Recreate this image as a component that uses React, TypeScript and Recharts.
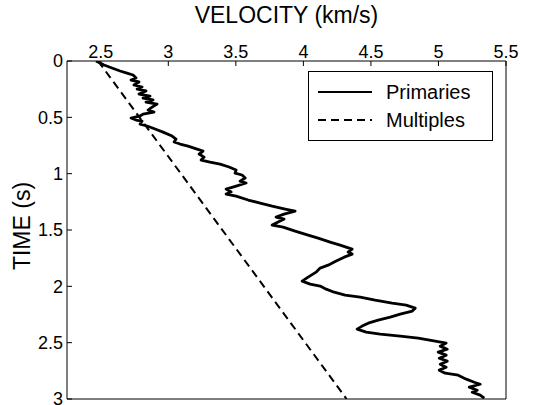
import React from 'react'
import { ScatterChart, Scatter, XAxis, YAxis, Legend } from 'recharts'

// velocity (km/s) vs two-way time (s)
const PRIMARY_T = [
  0, 0.036, 0.062, 0.089, 0.107, 0.124, 0.151, 0.169, 0.186, 0.213,
  0.231, 0.249, 0.266, 0.293, 0.311, 0.329, 0.346, 0.364, 0.382, 0.409,
  0.435, 0.453, 0.471, 0.488, 0.506, 0.524, 0.533, 0.56, 0.577, 0.604,
  0.631, 0.666, 0.693, 0.719, 0.737, 0.755, 0.782, 0.799, 0.826, 0.853,
  0.879, 0.897, 0.915, 0.941, 0.968, 0.995, 1.012, 1.039, 1.066, 1.083,
  1.11, 1.137, 1.163, 1.181, 1.199, 1.234, 1.261, 1.288, 1.314, 1.332,
  1.359, 1.385, 1.403, 1.43, 1.456, 1.474, 1.51, 1.545, 1.572, 1.607,
  1.634, 1.67, 1.696, 1.714, 1.741, 1.776, 1.812, 1.838, 1.874, 1.918,
  1.954, 1.98, 1.998, 2.025, 2.052, 2.078, 2.096, 2.123, 2.149, 2.167,
  2.194, 2.22, 2.247, 2.274, 2.3, 2.327, 2.353, 2.38, 2.407, 2.425,
  2.442, 2.46, 2.487, 2.504, 2.531, 2.558, 2.584, 2.611, 2.638, 2.664,
  2.691, 2.718, 2.744, 2.771, 2.789, 2.824, 2.851, 2.869, 2.895, 2.922,
  2.94, 2.966, 2.993,
]
const PRIMARY_V = [
  2.465, 2.524, 2.583, 2.643, 2.694, 2.739, 2.761, 2.724, 2.783, 2.746,
  2.806, 2.769, 2.835, 2.783, 2.865, 2.813, 2.887, 2.835, 2.917, 2.88,
  2.85, 2.894, 2.813, 2.791, 2.724, 2.761, 2.806, 2.791, 2.843, 2.902,
  2.961, 3.028, 3.057, 3.043, 3.087, 3.146, 3.213, 3.257, 3.228, 3.265,
  3.243, 3.309, 3.383, 3.45, 3.502, 3.494, 3.546, 3.569, 3.531, 3.576,
  3.502, 3.428, 3.465, 3.428, 3.502, 3.591, 3.68, 3.769, 3.865, 3.939,
  3.857, 3.798, 3.857, 3.813, 3.769, 3.85, 3.939, 4.035, 4.109, 4.198,
  4.272, 4.361, 4.331, 4.361, 4.302, 4.243, 4.183, 4.124, 4.094, 4.035,
  3.991, 4.05, 4.124, 4.169, 4.228, 4.309, 4.42, 4.531, 4.657, 4.761,
  4.828, 4.806, 4.717, 4.643, 4.554, 4.48, 4.435, 4.398, 4.465, 4.569,
  4.717, 4.85, 4.976, 5.057, 5.013, 5.065, 4.998, 5.057, 5.006, 5.065,
  5.013, 5.057, 5.006, 5.05, 5.146, 5.206, 5.265, 5.309, 5.228, 5.287,
  5.25, 5.309, 5.339,
]
const MULTIPLE_T = [0, 3]
const MULTIPLE_V = [2.48, 4.32]

const X_TICKS = [2.5, 3, 3.5, 4, 4.5, 5, 5.5]
const Y_TICKS = [0, 0.5, 1, 1.5, 2, 2.5, 3]

const SERIES = [
  { name: 'Primaries', dash: undefined as string | undefined },
  { name: 'Multiples', dash: '8 5' },
]

const primaries = PRIMARY_T.map((t, i) => ({ t, v: PRIMARY_V[i] }))
const multiples = MULTIPLE_T.map((t, i) => ({ t, v: MULTIPLE_V[i] }))

const NoDot = () => <g />

const tickStyle = { fontSize: 18, fill: '#000' }

function LegendBox() {
  return (
    <div
      style={{
        width: 185,
        height: 70,
        boxSizing: 'border-box',
        border: '1px solid #000',
        background: '#fff',
        paddingTop: 6,
      }}
    >
      {SERIES.map((s) => (
        <div key={s.name} style={{ display: 'flex', alignItems: 'center', height: 28 }}>
          <svg width={64} height={10} style={{ marginLeft: 9 }}>
            <line x1={0} y1={5} x2={54} y2={5} stroke="#000" strokeWidth={2} strokeDasharray={s.dash} />
          </svg>
          <span style={{ fontSize: 20, color: '#000', marginLeft: 4 }}>{s.name}</span>
        </div>
      ))}
    </div>
  )
}

export default function App() {
  return (
    <div
      style={{
        position: 'absolute',
        left: 0,
        top: 0,
        width: 536,
        height: 405,
        overflow: 'hidden',
        background: '#fff',
        fontFamily: '"Liberation Sans", Arial, sans-serif',
      }}
    >
      <ScatterChart width={536} height={420} margin={{ top: 0, right: 29, bottom: 20, left: 0 }}>
        <XAxis
          type="number"
          dataKey="v"
          orientation="top"
          domain={[2.25, 5.5]}
          allowDataOverflow
          ticks={X_TICKS}
          height={61}
          tickSize={-5}
          tickMargin={8}
          tick={tickStyle}
          stroke="#000"
          label={{ value: 'VELOCITY (km/s)', position: 'insideTop', offset: 7, fontSize: 23, fill: '#000' }}
        />
        <XAxis
          xAxisId="bottom"
          type="number"
          orientation="bottom"
          domain={[2.25, 5.5]}
          allowDataOverflow
          ticks={X_TICKS}
          height={1}
          tickSize={-5}
          tick={false}
          stroke="#000"
        />
        <YAxis
          type="number"
          dataKey="t"
          reversed
          domain={[0, 3]}
          allowDataOverflow
          ticks={Y_TICKS}
          width={67}
          tickSize={-5}
          tickMargin={9}
          tick={tickStyle}
          stroke="#000"
          label={{
            value: 'TIME (s)',
            angle: -90,
            position: 'insideLeft',
            offset: 22,
            dy: -4,
            fontSize: 23,
            fill: '#000',
            style: { textAnchor: 'middle' },
          }}
        />
        <YAxis
          yAxisId="right"
          type="number"
          orientation="right"
          reversed
          domain={[0, 3]}
          allowDataOverflow
          ticks={Y_TICKS}
          width={1}
          tickSize={-5}
          tick={false}
          stroke="#000"
        />
        <Legend
          content={() => <LegendBox />}
          layout="horizontal"
          verticalAlign="middle"
          align="center"
          wrapperStyle={{ position: 'absolute', left: 308, top: 71, width: 185, height: 70 }}
        />
        <Scatter
          name="Primaries"
          data={primaries}
          fill="#000"
          shape={NoDot}
          line={{ stroke: '#000', strokeWidth: 2.8, strokeLinejoin: 'round' }}
          isAnimationActive={false}
        />
        <Scatter
          name="Multiples"
          data={multiples}
          fill="#000"
          shape={NoDot}
          line={{ stroke: '#000', strokeWidth: 2, strokeDasharray: '8 5' }}
          isAnimationActive={false}
        />
      </ScatterChart>
    </div>
  )
}
